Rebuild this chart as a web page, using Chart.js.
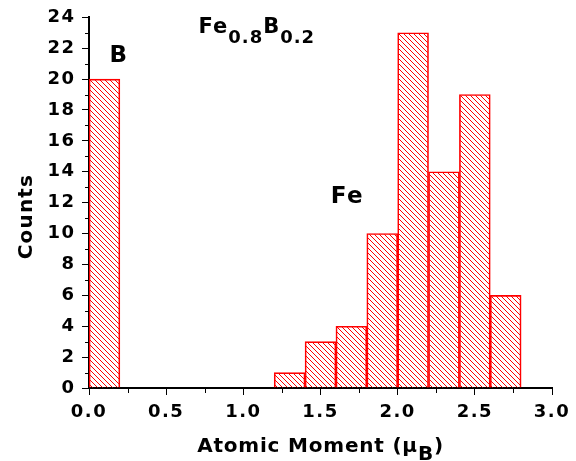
<!DOCTYPE html>
<html lang="en">
<head>
  <meta charset="UTF-8" />
  <title>Fe0.8B0.2 atomic moments</title>
  <script src="https://cdn.jsdelivr.net/npm/chart.js"></script>
  <style>
    html, body { margin: 0; padding: 0; background: #fff; }
    canvas { display: block; }
  </style>
</head>
<body>
  <canvas id="histo" width="576" height="461"></canvas>

  <script>
    // histogram bins (left edge, width 0.2) and counts
    const binWidth = 0.2;
    const binLeft = [0.0, 1.2, 1.4, 1.6, 1.8, 2.0, 2.2, 2.4, 2.6];
    const counts  = [20, 1, 3, 4, 10, 23, 14, 19, 6];

    const xTicks = [0.0, 0.5, 1.0, 1.5, 2.0, 2.5, 3.0];
    const yTicks = [0, 2, 4, 6, 8, 10, 12, 14, 16, 18, 20, 22, 24];

    const FONT = "'DejaVu Sans'";

    // red diagonal hatch
    function hatch() {
      const c = document.createElement("canvas");
      c.width = 5; c.height = 5;
      const g = c.getContext("2d");
      g.fillStyle = "#ff0000";
      for (let i = 0; i < 5; i++) g.fillRect(i, i, 1, 1);
      return g.createPattern(c, "repeat");
    }

    // draws a row of text pieces (for subscripts)
    function drawRuns(ctx, runs, x, y, align) {
      let total = 0;
      runs.forEach(r => {
        ctx.font = "bold " + r.size + "px " + FONT;
        ctx.letterSpacing = r.sp + "px";
        r.w = ctx.measureText(r.t).width;
        total += r.w;
      });
      let cx = align === "center" ? x - total / 2 : x;
      runs.forEach(r => {
        ctx.font = "bold " + r.size + "px " + FONT;
        ctx.letterSpacing = r.sp + "px";
        ctx.fillText(r.t, cx, y + r.dy);
        cx += r.w;
      });
    }

    const extras = {
      id: "extras",
      beforeDraw(chart) {
        // wider tracking for the tick labels
        chart.ctx.letterSpacing = "1.5px";
      },
      afterDraw(chart) {
        const { ctx } = chart;
        const x = chart.scales.x, y = chart.scales.y;
        ctx.save();
        ctx.strokeStyle = "#000";
        ctx.lineWidth = 1;

        // minor ticks
        ctx.beginPath();
        for (let v = 1; v < 24; v += 2) {
          const py = Math.round(y.getPixelForValue(v)) + 0.5;
          ctx.moveTo(x.left - 4, py); ctx.lineTo(x.left, py);
        }
        for (let v = 0.25; v < 3; v += 0.5) {
          const px = Math.round(x.getPixelForValue(v)) + 0.5;
          ctx.moveTo(px, y.bottom); ctx.lineTo(px, y.bottom + 5);
        }
        ctx.stroke();

        ctx.fillStyle = "#000";
        ctx.textBaseline = "alphabetic";
        ctx.textAlign = "left";

        // compound name
        drawRuns(ctx, [
          { t: "Fe", size: 21, dy: 0, sp: 1 },
          { t: "0.8", size: 18, dy: 10.5, sp: 1 },
          { t: "B", size: 21, dy: 0, sp: 1 },
          { t: "0.2", size: 18, dy: 10.5, sp: 1 }
        ], x.getPixelForValue(0.71), y.getPixelForValue(23.0), "left");

        // peak labels
        ctx.textAlign = "center";
        ctx.font = "bold 23px " + FONT;
        ctx.letterSpacing = "1.5px";
        ctx.fillText("B", x.getPixelForValue(0.195), y.getPixelForValue(21.1));
        ctx.fillText("Fe", x.getPixelForValue(1.675), y.getPixelForValue(12.0));

        // x title
        ctx.textAlign = "left";
        drawRuns(ctx, [
          { t: "Atomic Moment (\u03bc", size: 20, dy: 0, sp: 0.8 },
          { t: "B", size: 20, dy: 8, sp: 0.8 },
          { t: ")", size: 20, dy: 0, sp: 0.8 }
        ], x.getPixelForValue(1.5), chart.height - 9, "center");

        // y title
        ctx.translate(31.5, y.getPixelForValue(11.1));
        ctx.rotate(-Math.PI / 2);
        ctx.textAlign = "center";
        ctx.font = "bold 20px " + FONT;
        ctx.letterSpacing = "1.2px";
        ctx.fillText("Counts", 0, 0);
        ctx.restore();
        ctx.letterSpacing = "0px";
      }
    };

    const ctx = document.getElementById("histo").getContext("2d");
    new Chart(ctx, {
      type: "bar",
      data: {
        datasets: [{
          data: binLeft.map((l, i) => ({ x: l + binWidth / 2, y: counts[i] })),
          backgroundColor: hatch(),
          borderColor: "#ff0000",
          borderWidth: 1,
          barPercentage: 1,
          categoryPercentage: 1
        }]
      },
      options: {
        responsive: false,
        animation: false,
        layout: { padding: { top: 15, right: 24, left: 0, bottom: 0 } },
        plugins: { legend: { display: false }, tooltip: { enabled: false } },
        scales: {
          x: {
            type: "linear",
            min: 0, max: 3,
            offset: false,
            afterFit: s => { s.height = 73; },
            afterBuildTicks: s => { s.ticks = xTicks.map(v => ({ value: v })); },
            grid: { offset: false, drawOnChartArea: false, color: "#000", tickLength: 7 },
            border: { color: "#000", width: 2 },
            ticks: {
              color: "#000", padding: 7, autoSkip: false, maxRotation: 0,
              font: { family: FONT, size: 18, weight: "bold" },
              callback: v => v.toFixed(1)
            }
          },
          y: {
            min: 0, max: 24,
            afterFit: s => { s.width = 89; },
            afterBuildTicks: s => { s.ticks = yTicks.map(v => ({ value: v })); },
            grid: { drawOnChartArea: false, color: "#000", tickLength: 7 },
            border: { color: "#000", width: 2 },
            ticks: {
              color: "#000", padding: 6.5, autoSkip: false,
              font: { family: FONT, size: 18, weight: "bold" }
            }
          }
        }
      },
      plugins: [extras]
    });
  </script>
</body>
</html>
